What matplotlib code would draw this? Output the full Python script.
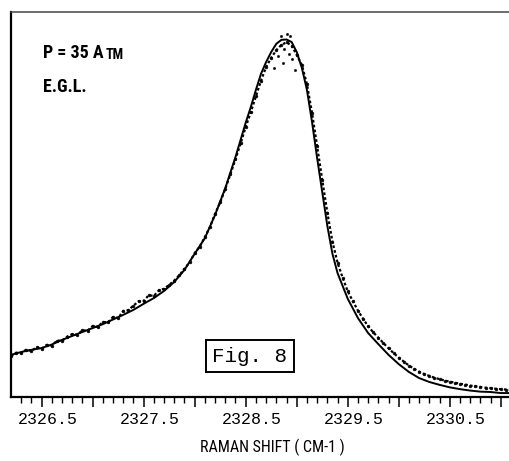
import numpy as np
import matplotlib
matplotlib.use("Agg")
import matplotlib.pyplot as plt
from matplotlib import font_manager
from matplotlib.transforms import ScaledTranslation

def pick(cands):
    for c in cands:
        try:
            font_manager.findfont(font_manager.FontProperties(family=c), fallback_to_default=False)
            return c
        except Exception:
            pass
    return "DejaVu Sans"

NARROW = pick(["Liberation Sans Narrow", "DejaVu Sans Condensed", "Roboto Condensed", "Open Sans Condensed", "DejaVu Sans"])
MONO = pick(["Liberation Mono", "DejaVu Sans Mono"])

# ---- data (Raman shift in cm-1, intensity in % of peak) ----
fit_x = [2326.2, 2326.3, 2326.4, 2326.5, 2326.6, 2326.7, 2326.8, 2326.9, 2327.0, 2327.1,
         2327.2, 2327.3, 2327.4, 2327.5, 2327.6, 2327.7, 2327.8, 2327.9, 2328.0, 2328.1,
         2328.2, 2328.3, 2328.4, 2328.5, 2328.55, 2328.6, 2328.65, 2328.7, 2328.75, 2328.8,
         2328.85, 2328.9, 2328.95, 2329.0, 2329.05, 2329.1, 2329.15, 2329.2, 2329.25, 2329.3,
         2329.35, 2329.4, 2329.5, 2329.6, 2329.7, 2329.8, 2329.9, 2330.0, 2330.1, 2330.2,
         2330.3, 2330.4, 2330.5, 2330.6, 2330.7, 2330.8, 2330.9, 2331.0, 2331.1]
fit_y = [11.8, 12.6, 13.2, 13.7, 14.7, 16.0, 17.1, 18.2, 19.3, 20.4,
         21.7, 23.0, 24.4, 26.1, 27.7, 29.7, 32.2, 35.6, 40.1, 44.5,
         51.0, 58.5, 67.2, 76.8, 81.2, 86.0, 90.5, 93.8, 96.6, 98.9,
         100.0, 100.1, 99.4, 96.6, 92.2, 86.0, 77.0, 66.9, 57.4, 47.9,
         40.1, 34.7, 27.5, 22.1, 17.9, 14.8, 11.8, 9.2, 7.0, 5.3,
         4.2, 3.4, 2.7, 2.2, 1.8, 1.5, 1.4, 1.1, 1.1]

exp_x = [2326.20, 2326.25, 2326.30, 2326.35, 2326.40, 2326.45, 2326.50, 2326.55, 2326.60, 2326.65,
         2326.70, 2326.75, 2326.80, 2326.85, 2326.90, 2326.95, 2327.00, 2327.05, 2327.10, 2327.15,
         2327.20, 2327.25, 2327.30, 2327.35, 2327.40, 2327.45, 2327.50, 2327.55, 2327.60, 2327.65,
         2327.70, 2327.75, 2327.80, 2327.85, 2327.90, 2327.95, 2328.00, 2328.05, 2328.10, 2328.15,
         2328.20, 2328.25, 2328.30, 2328.35, 2328.40, 2328.45, 2328.50, 2328.55, 2328.60, 2328.65,
         2328.70, 2328.75, 2328.80, 2328.85, 2328.90, 2328.95, 2329.00, 2329.05, 2329.10, 2329.15,
         2329.20, 2329.25, 2329.30, 2329.35, 2329.40, 2329.45, 2329.50, 2329.55, 2329.60, 2329.65,
         2329.70, 2329.75, 2329.80, 2329.85, 2329.90, 2329.95, 2330.00, 2330.05, 2330.10, 2330.15,
         2330.20, 2330.25, 2330.30, 2330.35, 2330.40, 2330.45, 2330.50, 2330.55, 2330.60, 2330.65,
         2330.70, 2330.75, 2330.80, 2330.85, 2330.90, 2330.95, 2331.00, 2331.05, 2331.10]
exp_y = [11.5, 12.4, 12.3, 13.3, 12.9, 13.9, 13.5, 14.6, 14.4, 15.8,
         15.7, 16.9, 17.6, 17.4, 18.7, 18.5, 19.9, 19.6, 21.0, 20.9,
         22.4, 22.1, 24.1, 24.3, 25.6, 26.8, 26.9, 28.5, 28.3, 29.9,
         30.3, 31.4, 32.6, 34.1, 35.9, 37.7, 40.3, 42.1, 44.8, 47.6,
         51.3, 54.5, 58.3, 62.4, 66.6, 71.0, 75.6, 79.8, 84.2, 88.6,
         92.4, 95.0, 97.1, 98.6, 99.3, 98.4, 95.8, 93.0, 87.6, 79.5,
         70.2, 60.8, 51.6, 43.5, 37.6, 33.4, 29.6, 26.8, 24.2, 21.9,
         19.8, 18.1, 16.6, 15.1, 13.6, 12.3, 11.0, 9.9, 8.8, 7.9,
         7.1, 6.4, 5.9, 5.4, 5.0, 4.6, 4.3, 4.0, 3.7, 3.5,
         3.2, 3.0, 2.8, 2.6, 2.5, 2.3, 2.2, 2.1, 2.0]

peak_x = [2328.85, 2328.90, 2328.93, 2328.88, 2328.92, 2328.82, 2328.95, 2328.87, 2328.78, 2328.98]
peak_y = [101.2, 101.5, 101.0, 97.5, 96.0, 95.5, 94.6, 93.5, 92.0, 91.5]

labeled_ticks = [2326.5, 2327.5, 2328.5, 2329.5, 2330.5]

# ---- figure ----
W, H = 510, 461
fig = plt.figure(figsize=(W / 100, H / 100), dpi=100)
ax = fig.add_axes([11 / W, 1 - 397 / H, 499 / W, 385 / H])

ax.plot(fit_x, fit_y, color="black", lw=1.4, solid_capstyle="round", zorder=3)
ax.plot(exp_x, exp_y, ls=(0, (1.2, 1.0)), lw=1.6, color="black", zorder=2)
ax.plot(exp_x, exp_y, ls="none", marker="o", ms=2.0, mfc="black", mec="black", mew=0.4, zorder=2)
ax.plot(peak_x, peak_y, ls="none", marker="o", ms=1.6, mfc="black", mec="black", mew=0.4, zorder=2)

ax.set_xlim(2326.2, 2331.09)
ax.set_ylim(0, 107.8)

ax.spines["right"].set_visible(False)
ax.spines["left"].set_linewidth(1.6)
ax.spines["bottom"].set_linewidth(1.6)
ax.spines["top"].set_linewidth(1.1)
ax.spines["top"].set_color("#444444")

ax.set_yticks([])
major = np.arange(2326.5, 2331.01, 0.5)
ax.set_xticks(major)
ax.set_xticklabels([f"{v:.1f}" if any(abs(v - t) < 1e-6 for t in labeled_ticks) else "" for v in major])
ax.set_xticks(np.arange(2326.3, 2331.05, 0.1), minor=True)
ax.tick_params(axis="x", which="major", direction="out", length=7.5, width=1.1, pad=3.5,
               labelsize=12)
ax.tick_params(axis="x", which="minor", direction="out", length=4, width=1.0)
for lab in ax.get_xticklabels():
    lab.set_fontfamily(MONO)
    lab.set_transform(lab.get_transform() + ScaledTranslation(6 / 100, 0, fig.dpi_scale_trans))

ax.set_xlabel("RAMAN SHIFT ( CM-1 )", fontsize=11.5, family=NARROW)
ax.xaxis.set_label_coords((272 - 11) / 499, -(447 - 397) / 385)
ax.xaxis.label.set_va("center")

t1 = ax.text((43 - 11) / 499, (397 - 58) / 385, "P = 35 A", transform=ax.transAxes,
             fontsize=13, fontweight="bold", family=NARROW, ha="left", va="baseline")
ax.annotate("TM", xy=(1, 0), xycoords=t1, xytext=(1.5, 0), textcoords="offset points",
            fontsize=10, fontweight="bold", family=NARROW, ha="left", va="bottom")
ax.text((43 - 11) / 499, (397 - 92) / 385, "E.G.L.", transform=ax.transAxes,
        fontsize=13, fontweight="bold", family=NARROW, ha="left", va="baseline")

ax.text((250 - 11) / 499, (397 - 356) / 385, "Fig. 8", transform=ax.transAxes,
        fontsize=15, family=MONO, ha="center", va="center",
        bbox=dict(boxstyle="square,pad=0.3", fc="white", ec="black", lw=1.4))

fig.savefig("out.png", dpi=100)
